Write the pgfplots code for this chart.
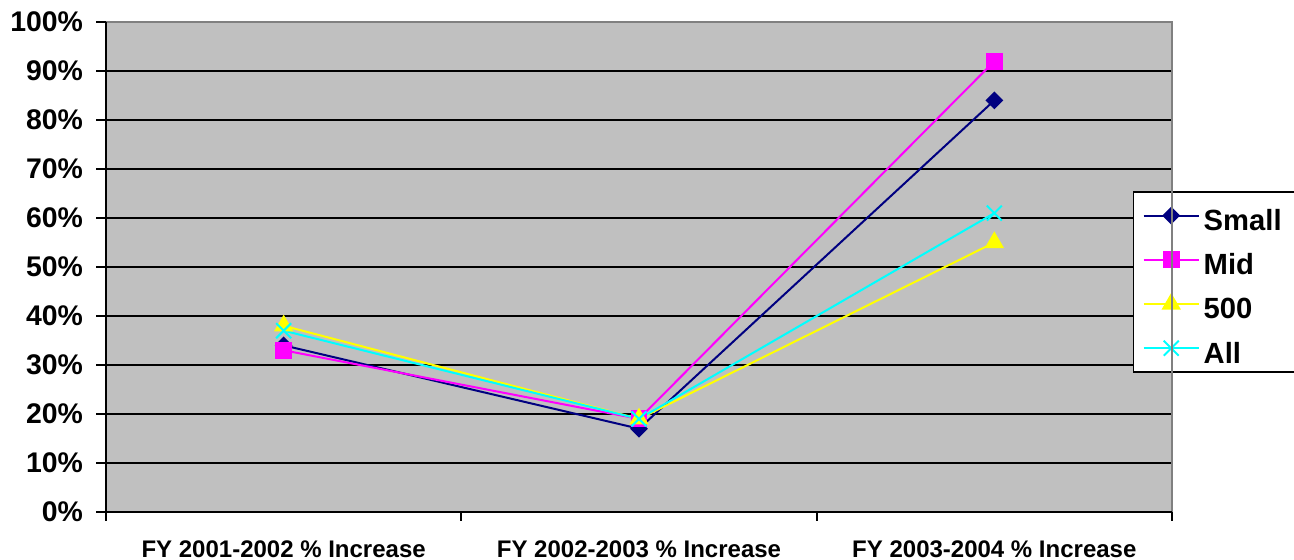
\documentclass[border=0pt]{standalone}
\usepackage{pgfplots}
\pgfplotsset{compat=1.18}
\usepackage{fontspec}
\setmainfont{Liberation Sans}

\definecolor{plotbg}{HTML}{C0C0C0}
\definecolor{frame}{HTML}{808080}
\definecolor{cSmall}{HTML}{000080}
\definecolor{cMid}{HTML}{FF00FF}
\definecolor{c500}{HTML}{FFFF00}
\definecolor{cAll}{HTML}{00FFFF}

\begin{document}
\begin{tikzpicture}
\path[use as bounding box] (0,0) rectangle (647pt,280pt);
\begin{axis}[
  scale only axis,
  width=533pt, height=245pt,
  at={(53pt,24pt)}, anchor=south west,
  xmin=0.5, xmax=3.5, ymin=0, ymax=100,
  axis background/.style={fill=plotbg},
  axis line style={draw=none},
  tick align=outside,
  xtick pos=lower, ytick pos=lower,
  xtick={1,2,3},
  xticklabels={FY 2001-2002 \% Increase, FY 2002-2003 \% Increase, FY 2003-2004 \% Increase},
  major x tick style={draw=none},
  minor xtick={0.5,1.5,2.5,3.5},
  minor x tick style={black, line width=1pt},
  minor tick length=4.5pt,
  xticklabel style={font=\bfseries\fontsize{12}{14}\selectfont, yshift=-6pt},
  ytick={0,10,...,100},
  yticklabels={0\%,10\%,20\%,30\%,40\%,50\%,60\%,70\%,80\%,90\%,100\%},
  yticklabel style={font=\bfseries\fontsize{14.2}{16}\selectfont, xshift=-3pt},
  major y tick style={black, line width=1pt},
  major tick length=5pt,
  ymajorgrids,
  grid style={black, line width=1.1pt},
  clip=false,
  legend style={
    at={(0.9634,0.655)}, anchor=north west,
    draw=black, line width=0.75pt, fill=white,
    font=\bfseries\fontsize{14.6}{16}\selectfont,
    inner xsep=4.5pt, inner ysep=2.4pt,
    row sep=3.1pt,
    legend cell align=left,
    nodes={text height=15pt, text depth=0pt},
  },
  legend image code/.code={
    \draw[mark repeat=2, mark phase=2] plot coordinates {(0pt,0pt) (13.75pt,0pt) (27.5pt,0pt)};
  },
  every axis plot/.append style={line width=1pt},
  extra description/.code={
    \draw[frame, line width=1.2pt] (rel axis cs:0,1) -- (rel axis cs:1,1) -- (rel axis cs:1,0);
    \draw[black, line width=1.2pt] (rel axis cs:0,1) -- (rel axis cs:0,0) -- (rel axis cs:1,0);
  },
]
\addplot[cSmall, mark=square*, mark size=2.65pt, mark options={rotate=45, solid, fill=cSmall}]
  coordinates {(1,34) (2,17) (3,84)};
\addlegendentry{Small}
\addplot[cMid, mark=square*, mark size=3.7pt, mark options={solid, fill=cMid}]
  coordinates {(1,33) (2,19) (3,92)};
\addlegendentry{Mid}
\addplot[c500, mark=triangle*, mark size=4.6pt, mark options={solid, fill=c500}]
  coordinates {(1,38) (2,19) (3,55)};
\addlegendentry{500}
\addplot[cAll, mark=x, mark size=5.3pt, mark options={solid}]
  coordinates {(1,37) (2,19) (3,61)};
\addlegendentry{All}
\end{axis}
\end{tikzpicture}
\end{document}
